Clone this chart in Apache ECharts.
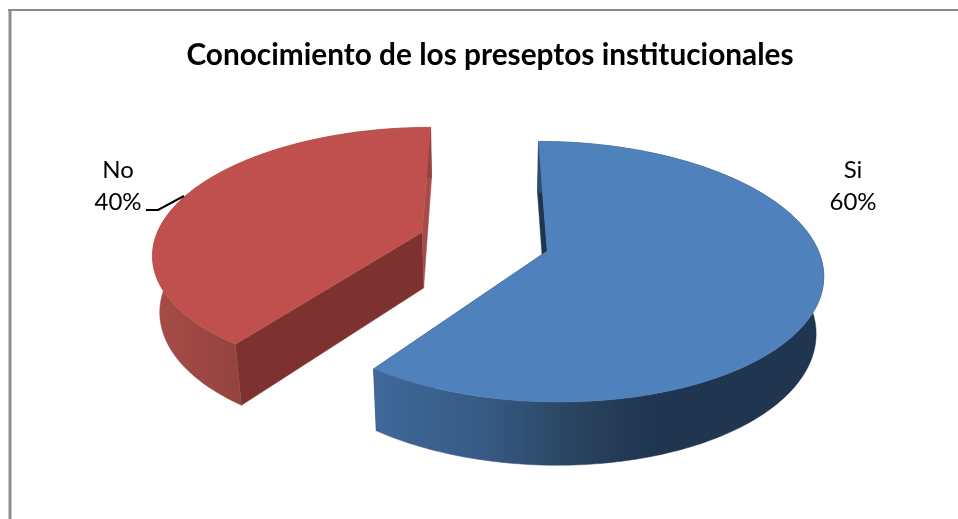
<!DOCTYPE html>
<html>
<head>
<meta charset="utf-8">
<title>Conocimiento de los preseptos institucionales</title>
<style>html,body{margin:0;padding:0;background:#fff}#chart{width:958px;height:519px}</style>
<script src="https://cdn.jsdelivr.net/npm/echarts@6/dist/echarts.min.js"></script>
</head>
<body>
<div id="chart"></div>
<script>
const chartTitle = 'Conocimiento de los preseptos institucionales';
const categories = ['Si', 'No'];
const values = [60, 40];

// Perspective settings of the tilted pie
const view = { cx: 484, cy: 241.5, R: 268, K: 124, D: 57.5, px: 0.157, py: 0.157, q: 0.022, explode: 0.245 };
const total = values.reduce((a, b) => a + b, 0);

const topColors = ['#4f81bd', '#c0504d'];
const cutColors = [['#1f3550', '#1f3550'], ['#7e3230', '#a64b48']];
const wallStops = [
  [[0, '#40689a'], [0.25, '#365a83'], [0.45, '#29435f'], [0.62, '#1f3550'], [1, '#1f3550']],
  [[0, '#a64c48'], [0.33, '#94433f'], [1, '#94433f']]
];
const labelAnchors = [[853, 186], [118, 186]];

function project(x, z, h) {
  const wx = 1 + view.px * z + view.q * h;
  const wy = 1 + view.py * z + view.q * h;
  return [view.cx + view.R * x / wx, view.cy + (-view.K * z + view.D * h) / wy];
}

// Slice angles run clockwise from the back of the pie
function sliceGeometry(index) {
  let start = 0;
  for (let i = 0; i < index; i++) start += values[i] / total * Math.PI * 2;
  const sweep = values[index] / total * Math.PI * 2;
  const mid = start + sweep / 2;
  const ox = view.explode * Math.sin(mid);
  const oz = view.explode * Math.cos(mid);
  const rim = h => {
    const pts = [];
    const steps = Math.ceil(sweep / (Math.PI / 180));
    for (let s = 0; s <= steps; s++) {
      const a = start + sweep * s / steps;
      pts.push(project(ox + Math.sin(a), oz + Math.cos(a), h));
    }
    return pts;
  };
  return { apex: h => project(ox, oz, h), rim };
}

function polygon(points, fill) {
  return { type: 'polygon', shape: { points }, style: { fill, stroke: fill, lineWidth: 0.5 } };
}

function renderSlice(params, api) {
  const i = params.dataIndex;
  const g = sliceGeometry(i);
  const top = g.rim(0);
  const bottom = g.rim(1);
  const n = top.length - 1;
  const wall = top.concat(bottom.slice().reverse());
  const wallFill = {
    type: 'linear', x: 0, y: 0, x2: 1, y2: 0,
    colorStops: wallStops[i].map(s => ({ offset: s[0], color: s[1] }))
  };
  const children = [
    polygon([g.apex(0), top[0], bottom[0], g.apex(1)], cutColors[i][0]),
    polygon([g.apex(0), top[n], bottom[n], g.apex(1)], cutColors[i][1]),
    polygon(wall, wallFill),
    polygon([g.apex(0)].concat(top), topColors[i]),
    {
      type: 'text',
      style: {
        x: labelAnchors[i][0], y: labelAnchors[i][1],
        text: categories[i] + '\n' + Math.round(api.value(0) / total * 100) + '%',
        fill: '#000', font: '24px Lato', align: 'center', verticalAlign: 'middle', lineHeight: 32
      }
    }
  ];
  return { type: 'group', children };
}

const chart = echarts.init(document.getElementById('chart'), null, { renderer: 'canvas' });
chart.setOption({
  animation: false,
  backgroundColor: '#ffffff',
  title: {
    text: chartTitle,
    left: 485, top: 35, textAlign: 'center',
    textStyle: { fontFamily: 'Lato', fontWeight: 700, fontSize: 29.8, color: '#000' }
  },
  graphic: [
    { type: 'line', silent: true, z: 10, shape: { x1: 8, y1: 10, x2: 958, y2: 10 }, style: { stroke: '#8c8c8c', lineWidth: 2 } },
    { type: 'line', silent: true, z: 10, shape: { x1: 10, y1: 9, x2: 10, y2: 519 }, style: { stroke: '#8c8c8c', lineWidth: 3 } },
    { type: 'polyline', silent: true, z: 10, shape: { points: [[146, 210], [158, 210], [184, 196]] }, style: { stroke: '#000', lineWidth: 2, fill: 'none' } }
  ],
  series: [{
    type: 'custom',
    coordinateSystem: 'none',
    silent: true,
    renderItem: renderSlice,
    data: values.map((v, i) => ({ name: categories[i], value: [v] }))
  }]
});
</script>
</body>
</html>
